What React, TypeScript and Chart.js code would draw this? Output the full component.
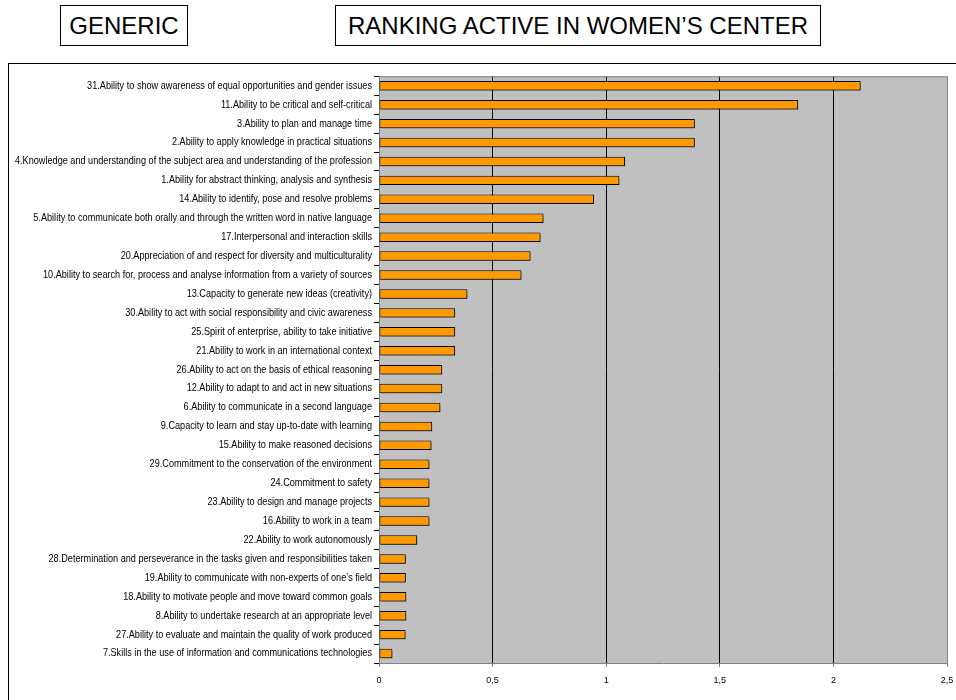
import React, { useEffect, useRef } from "react";
import { Chart, CategoryScale, registerables } from "chart.js";

Chart.register(...registerables);

const competences: string[] = [
  "31.Ability to show awareness of equal opportunities and gender issues",
  "11.Ability to be critical and self-critical",
  "3.Ability to plan and manage time",
  "2.Ability to apply knowledge in practical situations",
  "4.Knowledge and understanding of the subject area and understanding of the profession",
  "1.Ability for abstract thinking, analysis and synthesis",
  "14.Ability to identify, pose and resolve problems",
  "5.Ability to communicate both orally and through the written word in native language",
  "17.Interpersonal and interaction skills",
  "20.Appreciation of and respect for diversity and multiculturality",
  "10.Ability to search for, process and analyse information from a variety of sources",
  "13.Capacity to generate new ideas (creativity)",
  "30.Ability to act with social responsibility and civic awareness",
  "25.Spirit of enterprise, ability to take initiative",
  "21.Ability to work in an international context",
  "26.Ability to act on the basis of ethical reasoning",
  "12.Ability to adapt to and act in new situations",
  "6.Ability to communicate in a second language",
  "9.Capacity to learn and stay up-to-date with learning",
  "15.Ability to make reasoned decisions",
  "29.Commitment to the conservation of the environment",
  "24.Commitment to safety",
  "23.Ability to design and manage projects",
  "16.Ability to work in a team",
  "22.Ability to work autonomously",
  "28.Determination and perseverance in the tasks given and responsibilities taken",
  "19.Ability to communicate with non-experts of one\u2019s field",
  "18.Ability to motivate people and move toward common goals",
  "8.Ability to undertake research at an appropriate level",
  "27.Ability to evaluate and maintain the quality of work produced",
  "7.Skills in the use of information and communications technologies",
];

const rankingValues: number[] = [
  2.12, 1.845, 1.39, 1.39, 1.083, 1.058, 0.946, 0.724, 0.711, 0.667, 0.627,
  0.389, 0.335, 0.335, 0.335, 0.278, 0.278, 0.27, 0.234, 0.231, 0.222, 0.222,
  0.222, 0.222, 0.168, 0.118, 0.118, 0.12, 0.12, 0.117, 0.059,
];

const xMin = 0;
const xMax = 2.5;
const xStep = 0.5;

const titleLeft = "GENERIC";
const titleRight = "RANKING ACTIVE IN WOMEN\u2019S CENTER";

const labelFont = "'Liberation Sans',Arial,sans-serif";
const labelCondense = 0.87;

class CondensedCategoryScale extends (CategoryScale as any) {
  static id = "condensedCategory";
  static defaults = (CategoryScale as any).defaults;
  _computeLabelArea() {
    return undefined;
  }
  drawLabels(chartArea: any) {
    const ctx = (this as any).ctx;
    const opts = (this as any).options;
    const x0 = (this as any).right - opts.grid.tickLength - opts.ticks.padding;
    ctx.save();
    ctx.translate(x0, 0);
    ctx.scale(labelCondense, 1);
    ctx.translate(-x0, 0);
    super.drawLabels(chartArea);
    ctx.restore();
  }
}
Chart.register(CondensedCategoryScale as any);

export default function App() {
  const canvasRef = useRef<HTMLCanvasElement>(null);

  useEffect(() => {
    if (!canvasRef.current) return;

    const plotFrame = {
      id: "plotFrame",
      beforeDraw(chart: any) {
        const { ctx, chartArea } = chart;
        ctx.save();
        ctx.fillStyle = "#C0C0C0";
        ctx.fillRect(chartArea.left, chartArea.top, chartArea.right - chartArea.left, chartArea.bottom - chartArea.top);
        ctx.restore();
      },
      afterDraw(chart: any) {
        const { ctx, chartArea } = chart;
        ctx.save();
        ctx.strokeStyle = "#808080";
        ctx.lineWidth = 1;
        ctx.beginPath();
        ctx.moveTo(chartArea.left, chartArea.top + 0.5);
        ctx.lineTo(chartArea.right, chartArea.top + 0.5);
        ctx.stroke();
        ctx.restore();
      },
    };

    const barShadow = {
      id: "barShadow",
      beforeDatasetsDraw(chart: any) {
        const ctx = chart.ctx;
        ctx.save();
        ctx.shadowColor = "rgba(0,0,0,0.4)";
        ctx.shadowOffsetX = 2;
        ctx.shadowOffsetY = 2;
        ctx.shadowBlur = 0;
      },
      afterDatasetsDraw(chart: any) {
        chart.ctx.restore();
      },
    };

    const chart = new Chart(canvasRef.current, {
      type: "bar",
      data: {
        labels: competences,
        datasets: [
          {
            data: rankingValues,
            backgroundColor: "#FF9900",
            borderColor: "#000000",
            borderWidth: 1,
            borderSkipped: false,
            barPercentage: 0.5,
            categoryPercentage: 1,
          },
        ],
      },
      options: {
        indexAxis: "y",
        responsive: false,
        animation: false,
        layout: { padding: { left: 0, right: 9, top: 4, bottom: 7 } },
        plugins: {
          legend: { display: false },
          tooltip: { enabled: false },
        },
        scales: {
          x: {
            min: xMin,
            max: xMax,
            ticks: {
              stepSize: xStep,
              color: "#000",
              padding: 8,
              font: { family: labelFont, size: 9 },
              callback: (v: any) => String(Number(v)).replace(".", ","),
            },
            grid: {
              color: (c: any) =>
                c.tick && (c.tick.value === xMin || c.tick.value === xMax) ? "#808080" : "#000000",
              lineWidth: 1,
              drawTicks: true,
              tickLength: 4,
              tickColor: "#808080",
            },
            border: { display: true, color: "#808080" },
            afterFit: (s: any) => {
              s.height = 30;
              s.paddingRight = 0;
              s.paddingLeft = 0;
            },
          },
          y: {
            type: "condensedCategory",
            offset: true,
            ticks: {
              autoSkip: false,
              color: "#000",
              padding: 2,
              font: { family: labelFont, size: 10.5 },
            },
            grid: {
              offset: true,
              drawOnChartArea: false,
              drawTicks: true,
              tickLength: 5,
              color: "#000",
            },
            border: { display: true, color: "#808080" },
            afterFit: (s: any) => {
              s.width = 371;
            },
          },
        },
      },
      plugins: [plotFrame, barShadow],
    } as any);

    return () => chart.destroy();
  }, []);

  const boxStyle: React.CSSProperties = {
    position: "absolute",
    top: 5,
    height: 41,
    border: "1px solid #000",
    boxSizing: "border-box",
    display: "flex",
    alignItems: "center",
    justifyContent: "center",
    fontFamily: "'Liberation Sans',Arial,sans-serif",
    fontSize: 24,
    color: "#000",
    background: "#fff",
    whiteSpace: "nowrap",
  };

  return (
    <div
      style={{
        position: "absolute",
        left: 0,
        top: 0,
        width: 956,
        height: 700,
        overflow: "hidden",
        background: "#fff",
      }}
    >
      <div style={{ ...boxStyle, left: 60, width: 128 }}>{titleLeft}</div>
      <div style={{ ...boxStyle, left: 335, width: 486 }}>{titleRight}</div>
      <div
        style={{
          position: "absolute",
          left: 8,
          top: 63,
          width: 1000,
          height: 700,
          border: "1px solid #000",
          boxSizing: "border-box",
        }}
      />
      <canvas
        ref={canvasRef}
        width={948}
        height={632}
        style={{ position: "absolute", left: 8, top: 68, width: 948, height: 632 }}
      />
    </div>
  );
}
